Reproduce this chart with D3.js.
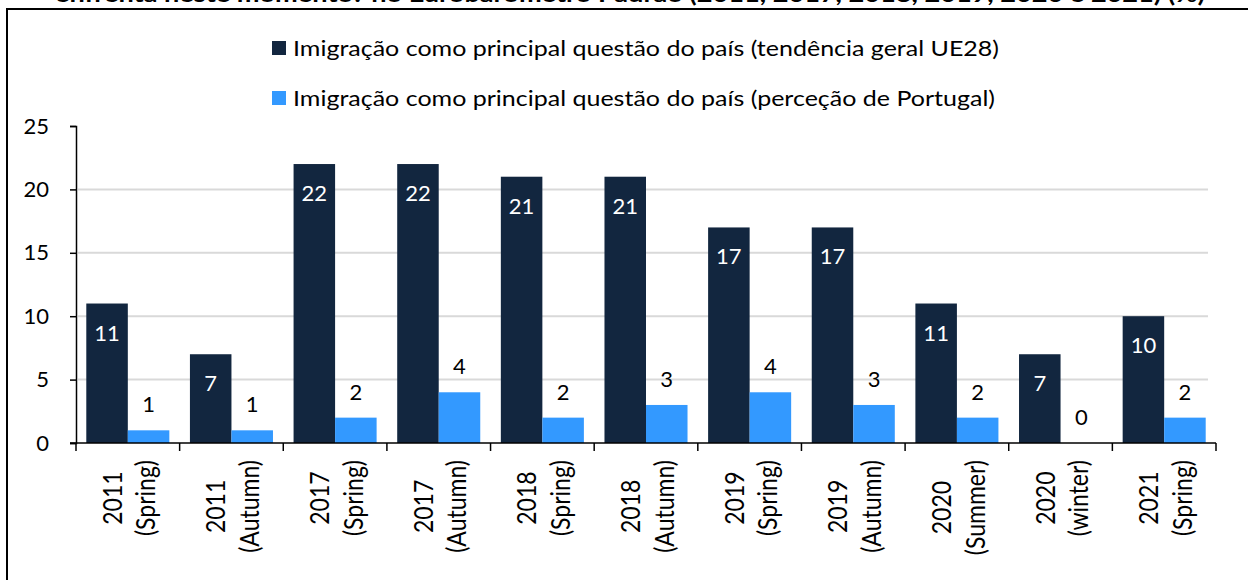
<!DOCTYPE html>
<html>
<head>
<meta charset="utf-8">
<script src="https://cdn.jsdelivr.net/npm/d3@7"></script>
<style>
  body { margin: 0; background: #fff; }
  svg text { font-family: Lato, "Open Sans", sans-serif; }
</style>
</head>
<body>
<div id="chart"></div>
<script>
// categories (two lines each on the x axis)
var years = ["2011", "2011", "2017", "2017", "2018", "2018", "2019", "2019", "2020", "2020", "2021"];
var waves = ["(Spring)", "(Autumn)", "(Spring)", "(Autumn)", "(Spring)", "(Autumn)", "(Spring)", "(Autumn)", "(Summer)", "(winter)", "(Spring)"];
// series values (%)
var ue28 = [11, 7, 22, 22, 21, 21, 17, 17, 11, 7, 10];
var portugal = [1, 1, 2, 4, 2, 3, 4, 3, 2, 0, 2];
var seriesNames = ["Imigração como principal questão do país (tendência geral UE28)",
                   "Imigração como principal questão do país (perceção de Portugal)"];
var yTicks = [0, 5, 10, 15, 20, 25];
var title = "enfrenta neste momento? no Eurobarómetro Padrão (2011, 2017, 2018, 2019, 2020 e 2021) (%)";

var colours = ["#12263f", "#3399ff"];
var W = 1248, H = 580;
// plot area edges (not called top/left: those clash with window globals)
var plotL = 76, plotR = 1216, plotT = 126, plotB = 443;

var svg = d3.select("#chart").append("svg")
    .attr("width", W).attr("height", H);

// cut-off title line at the very top
svg.append("text").text(title)
   .attr("x", 55).attr("y", 2)
   .attr("textLength", 1150).attr("lengthAdjust", "spacingAndGlyphs")
   .style("font-size", "22px").style("font-weight", "bold").attr("fill", "#000");

// outer frame
svg.append("rect")
   .attr("x", 7).attr("y", 9).attr("width", W + 20).attr("height", H + 20)
   .attr("fill", "none").attr("stroke", "#000").attr("stroke-width", 2);

var cats = years.map(function (d, i) { return i; });
var x = d3.scaleBand().domain(cats).range([plotL, plotR]);
var xInner = d3.scaleBand().domain([0, 1]).range([0, x.bandwidth()]).paddingOuter(0.248);
var y = d3.scaleLinear().domain([0, 25]).range([plotB, plotT]);

// gridlines
svg.append("g").selectAll("line")
   .data(yTicks.filter(function (d) { return d > 0 && d < 25; }))
   .enter().append("line")
   .attr("x1", plotL + 2).attr("x2", 1208)
   .attr("y1", function (d) { return y(d); }).attr("y2", function (d) { return y(d); })
   .attr("stroke", "#d9d9d9").attr("stroke-width", 2);

// bars
var data = cats.map(function (i) { return [ue28[i], portugal[i]]; });
var groups = svg.append("g").selectAll("g")
   .data(data).enter().append("g")
   .attr("transform", function (d, i) { return "translate(" + x(i) + ",0)"; });

groups.selectAll("rect")
   .data(function (d) { return d; })
   .enter().append("rect")
   .attr("x", function (d, j) { return xInner(j); })
   .attr("y", function (d) { return y(d); })
   .attr("width", xInner.bandwidth())
   .attr("height", function (d) { return y(0) - y(d); })
   .attr("fill", function (d, j) { return colours[j]; });

// value labels: white inside dark bars, black above light bars
groups.selectAll("text")
   .data(function (d) { return d; })
   .enter().append("text")
   .text(function (d) { return d; })
   .attr("x", function (d, j) { return xInner(j) + xInner.bandwidth() / 2; })
   .attr("y", function (d, j) { return j == 0 ? y(d) + 37 : y(d) - 18; })
   .attr("text-anchor", "middle")
   .attr("fill", function (d, j) { return j == 0 ? "#fff" : "#000"; })
   .style("font-size", "22px");

// y axis
var yAxis = svg.append("g")
   .attr("transform", "translate(" + plotL + ",0)")
   .call(d3.axisLeft(y).tickValues(yTicks).tickSize(6).tickPadding(21));
yAxis.select(".domain").attr("stroke", "#000").attr("stroke-width", 1.5);
yAxis.selectAll(".tick line").attr("stroke", "#000").attr("stroke-width", 1.5);
yAxis.selectAll(".tick text").style("font-size", "22px").attr("fill", "#000")
   .style("font-family", "Lato, sans-serif");

// x axis line and boundary ticks
svg.append("line")
   .attr("x1", plotL - 6).attr("x2", plotR)
   .attr("y1", plotB).attr("y2", plotB)
   .attr("stroke", "#000").attr("stroke-width", 1.5);
svg.append("g").selectAll("line")
   .data(cats.concat([cats.length]))
   .enter().append("line")
   .attr("x1", function (i) { return i < cats.length ? x(i) : x(i - 1) + x.bandwidth(); })
   .attr("x2", function (i) { return i < cats.length ? x(i) : x(i - 1) + x.bandwidth(); })
   .attr("y1", plotB).attr("y2", plotB + 8)
   .attr("stroke", "#000").attr("stroke-width", 1.5);

// rotated two-line category labels; block starts at y=460, lines centred on each other
var xl = svg.append("g").selectAll("g")
   .data(cats).enter().append("g");
var xt = xl.append("text")
   .attr("text-anchor", "middle")
   .attr("fill", "#000")
   .style("font-size", "23px");
xt.append("tspan").attr("x", 0).attr("dy", 0).text(function (i) { return years[i]; });
xt.append("tspan").attr("x", 0).attr("dy", 28).text(function (i) { return waves[i]; });
xt.each(function () {
    var spans = d3.select(this).selectAll("tspan").nodes();
    var longest = d3.max(spans, function (s) { return s.getComputedTextLength(); });
    d3.select(this).attr("data-len", longest);
});
xl.attr("transform", function (i) {
    var len = +d3.select(this).select("text").attr("data-len");
    return "translate(" + (x(i) + x.bandwidth() / 2 - 6) + "," + (460 + len / 2) + ") scale(1.2,1) rotate(-90)";
});

// legend (text widened a little, as in the source image)
var legend = svg.append("g").selectAll("g")
   .data(seriesNames).enter().append("g")
   .attr("transform", function (d, i) { return "translate(272," + (48 + i * 50) + ")"; });
legend.append("rect")
   .attr("x", 0).attr("y", -7).attr("width", 14).attr("height", 14)
   .attr("fill", function (d, i) { return colours[i]; });
legend.append("text").text(function (d) { return d; })
   .attr("transform", "translate(21,8) scale(1.137,1)")
   .attr("fill", "#000")
   .style("font-size", "22px");
</script>
</body>
</html>
